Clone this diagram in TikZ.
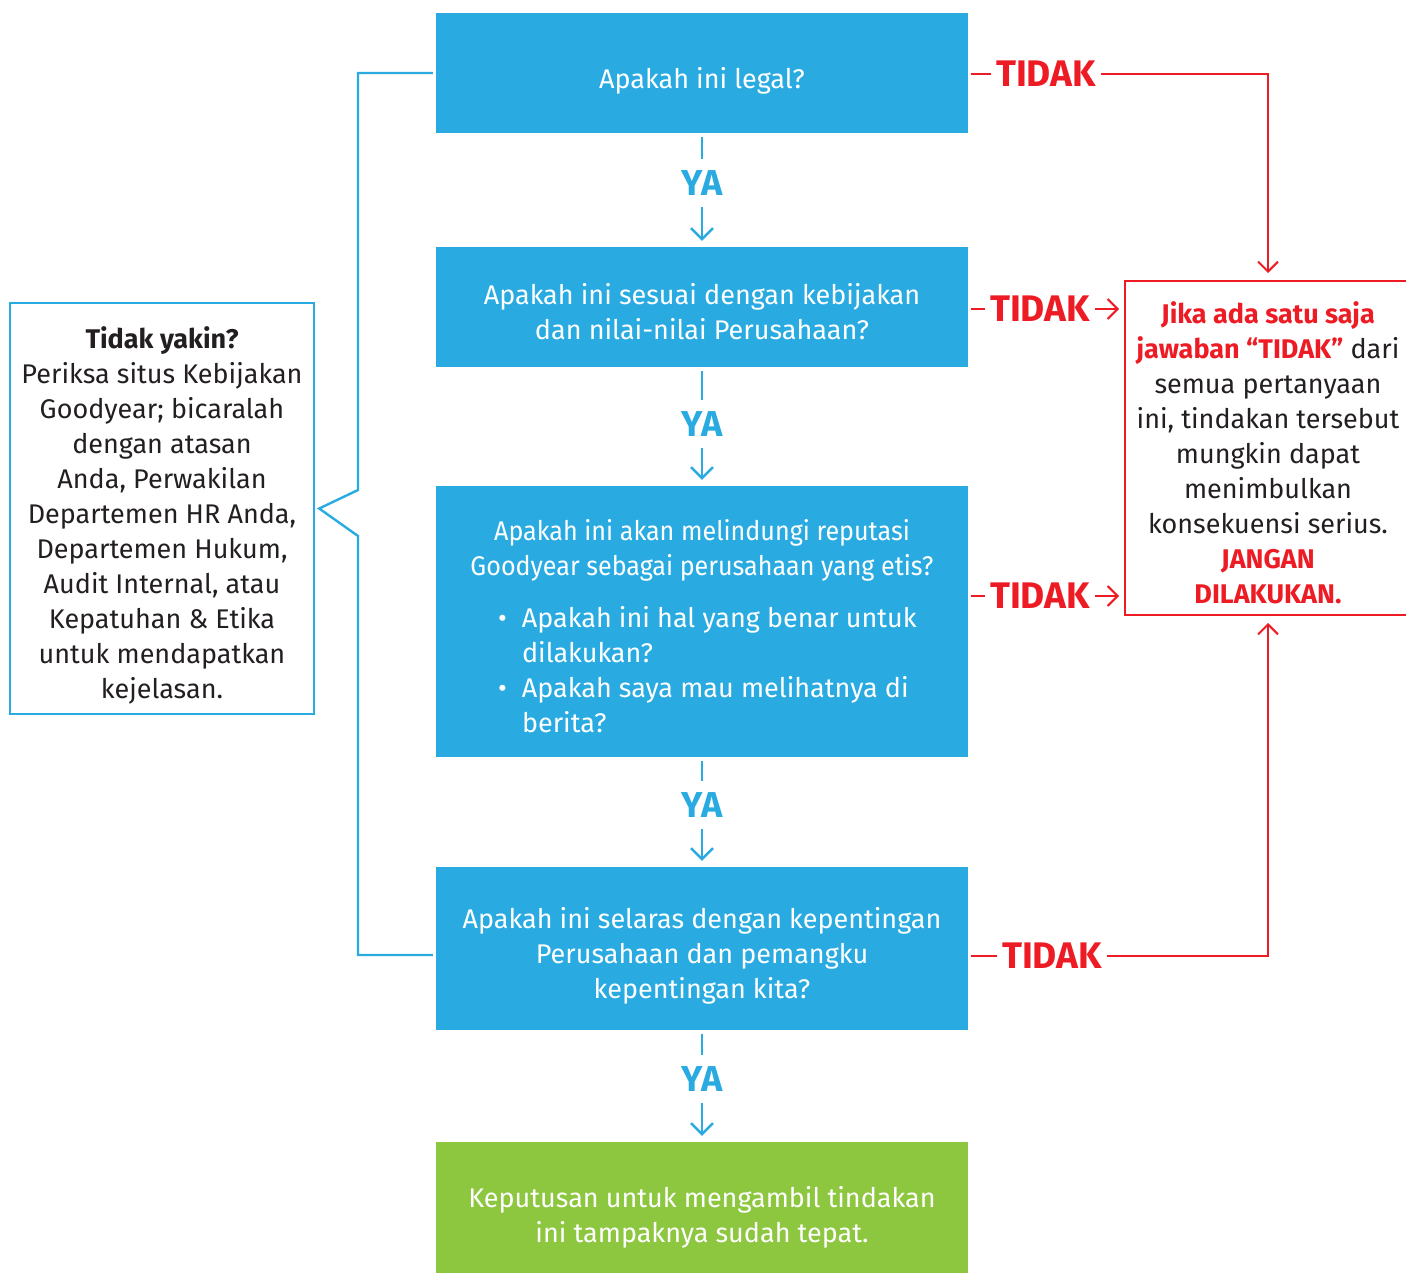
\documentclass[tikz,border=0pt]{standalone}
\usepackage{fontspec}
\setmainfont{Fira Sans}
\usetikzlibrary{arrows.meta}
\definecolor{gyblue}{HTML}{29ABE2}
\definecolor{gygreen}{HTML}{8DC63F}
\definecolor{gyred}{HTML}{ED1C24}
\definecolor{gytext}{HTML}{231F20}
\newcommand\lowtext[2][-8pt]{\raisebox{#1}[\height][\depth]{\begin{tabular}{@{}c@{}}#2\end{tabular}}}
\newcommand\bulletrow[1]{\makebox[470pt][l]{\hspace*{31pt}\makebox[24pt][l]{\textbullet}#1}}
\newcommand\controw[1]{\makebox[470pt][l]{\hspace*{55pt}#1}}
\begin{document}
\begin{tikzpicture}[x=1pt,y=-1pt,
  txt/.style={font=\fontsize{27}{35}\selectfont},
  qbox/.style={txt, rectangle, fill=gyblue, draw=none, minimum width=532pt, text=white, inner sep=0pt},
  gbox/.style={qbox, fill=gygreen},
  ya/.style={font=\fontsize{36}{36}\bfseries\selectfont, text=gyblue, inner sep=0pt, minimum height=47pt},
  tidak/.style={font=\fontsize{37}{37}\bfseries\selectfont, text=gyred, inner ysep=0pt, inner xsep=5pt},
  blueline/.style={draw=gyblue, line width=2.4pt},
  bluearrow/.style={blueline, -{Straight Barb[length=11pt,width=22pt,line width=2.4pt]}},
  redline/.style={draw=gyred, line width=2pt},
  redarrow/.style={redline, -{Straight Barb[length=10pt,width=20pt,line width=2pt]}}
]
\useasboundingbox (0,0) rectangle (1406,1274);

% question boxes
\node[qbox, minimum height=120pt] (q1) at (702,73) {\lowtext{Apakah ini legal?}};
\node[qbox, minimum height=120pt] (q2) at (702,307) {\lowtext{Apakah ini sesuai dengan kebijakan\\dan nilai-nilai Perusahaan?}};
\node[qbox, minimum height=271pt] (q3) at (702,621.5) {\lowtext{%
  \scalebox{0.93}[1]{Apakah ini akan melindungi reputasi}\\
  \scalebox{0.93}[1]{Goodyear sebagai perusahaan yang etis?}\\[17pt]
  \bulletrow{Apakah ini hal yang benar untuk}\\
  \controw{dilakukan?}\\
  \bulletrow{Apakah saya mau melihatnya di}\\
  \controw{berita?}}};
\node[qbox, minimum height=163pt] (q4) at (702,948.5) {\lowtext{Apakah ini selaras dengan kepentingan\\Perusahaan dan pemangku\\kepentingan kita?}};
\node[gbox, minimum height=131pt] (ok) at (702,1207.5) {\lowtext[-10pt]{Keputusan untuk mengambil tindakan\\ini tampaknya sudah tepat.}};

% YA connectors
\node[ya] (ya1) at (702,183) {YA};
\node[ya] (ya2) at (702,424) {YA};
\node[ya] (ya3) at (702,805) {YA};
\node[ya] (ya4) at (702,1079) {YA};
\draw[blueline, shorten <=4pt] (q1.south) -- (ya1.north);
\draw[bluearrow, shorten >=6pt] (ya1.south) -- (q2.north);
\draw[blueline, shorten <=4pt] (q2.south) -- (ya2.north);
\draw[bluearrow, shorten >=6pt] (ya2.south) -- (q3.north);
\draw[blueline, shorten <=4pt] (q3.south) -- (ya3.north);
\draw[bluearrow, shorten >=6pt] (ya3.south) -- (q4.north);
\draw[blueline, shorten <=4pt] (q4.south) -- (ya4.north);
\draw[bluearrow, shorten >=6pt] (ya4.south) -- (ok.north);

% warning box
\node[txt, rectangle, draw=gyred, line width=2pt, text=gytext,
      minimum width=286pt, minimum height=334pt, inner sep=0pt] (warn) at (1268,448)
  {\lowtext{{\color{gyred}\bfseries Jika ada satu saja}\\
   {\color{gyred}\bfseries jawaban “TIDAK”} dari\\
   semua pertanyaan\\ ini, tindakan tersebut\\ mungkin dapat\\ menimbulkan\\
   konsekuensi serius.\\
   {\color{gyred}\bfseries JANGAN}\\
   {\color{gyred}\bfseries DILAKUKAN.}}};

% TIDAK labels
\node[tidak] (t1) at (1046,74) {TIDAK};
\node[tidak] (t2) at (1040,309) {TIDAK};
\node[tidak] (t3) at (1040,596) {TIDAK};
\node[tidak] (t4) at (1052,956) {TIDAK};
\draw[redline] ([xshift=3pt]q1.east |- t1) -- (t1.west);
\draw[redarrow, shorten >=7pt] (t1.east) -| (warn.north);
\draw[redline] ([xshift=3pt]q2.east |- t2) -- (t2.west);
\draw[redarrow, shorten >=5pt] (t2.east) -- (t2.east -| warn.west);
\draw[redline] ([xshift=3pt]q3.east |- t3) -- (t3.west);
\draw[redarrow, shorten >=5pt] (t3.east) -- (t3.east -| warn.west);
\draw[redline] ([xshift=3pt]q4.east |- t4) -- (t4.west);
\draw[redarrow, shorten >=7pt] (t4.east) -| (warn.south);

% info box
\node[txt, rectangle, draw=gyblue, line width=2.4pt, text=gytext,
      minimum width=304pt, minimum height=411pt, inner sep=0pt] (info) at (162,508.5)
  {\lowtext{{\bfseries Tidak yakin?}\\ Periksa situs Kebijakan\\ Goodyear; bicaralah\\ dengan atasan\\
   Anda, Perwakilan\\ Departemen HR Anda,\\ Departemen Hukum,\\ Audit Internal, atau\\
   Kepatuhan \& Etika\\ untuk mendapatkan\\ kejelasan.}};

% bracket
\draw[blueline] ([xshift=-3pt]q1.west) -| (358,490) -- ([xshift=4pt]info.east) -- (358,536)
   |- ([xshift=-3pt,yshift=-6.5pt]q4.west);
\end{tikzpicture}
\end{document}
